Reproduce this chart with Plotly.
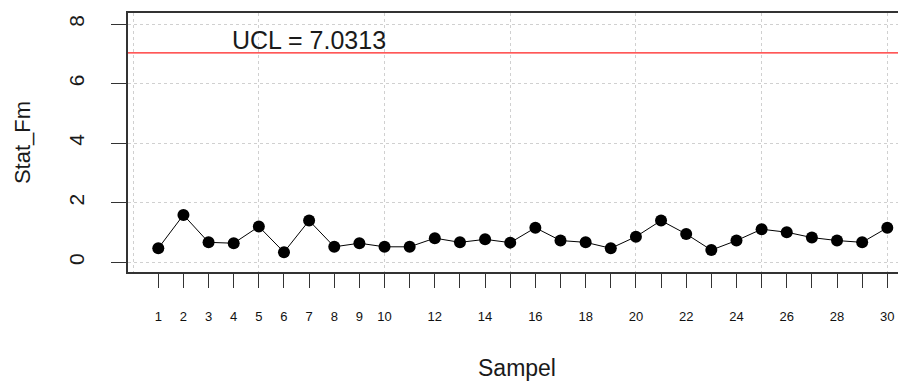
import plotly.graph_objects as go

samples = list(range(1, 31))
stat_fm = [0.47, 1.59, 0.67, 0.64, 1.20, 0.34, 1.40, 0.52, 0.64, 0.52,
           0.52, 0.81, 0.67, 0.77, 0.66, 1.16, 0.73, 0.67, 0.47, 0.86,
           1.40, 0.95, 0.41, 0.73, 1.11, 1.01, 0.83, 0.73, 0.67, 1.16]
ucl = 7.0313
x_tick_vals = list(range(1, 31))
x_tick_text = [str(v) if (v <= 10 or v % 2 == 0) else "" for v in x_tick_vals]
x_grid_vals = [0, 5, 10, 15, 20, 25, 30]
y_tick_vals = [0, 2, 4, 6, 8]

FONT = "Liberation Sans, Arial, sans-serif"

fig = go.Figure()
fig.add_trace(go.Scatter(
    x=[-1, 32], y=[ucl, ucl], mode="lines",
    line=dict(color="#ff2020", width=1.3), hoverinfo="skip", showlegend=False))
fig.add_trace(go.Scatter(
    x=samples, y=stat_fm, mode="lines+markers",
    line=dict(color="black", width=1),
    marker=dict(color="black", size=12),
    showlegend=False))

fig.add_annotation(x=7, y=7.46, text="UCL = 7.0313", showarrow=False,
                   xanchor="center", yanchor="middle",
                   font=dict(family=FONT, size=25, color="#1a1a1a"))

# page body has an 8px default margin; figure is sized to fill the window
fig.update_layout(
    width=898, height=373,
    margin=dict(l=120, r=0, t=5, b=109),
    paper_bgcolor="white", plot_bgcolor="white",
    font=dict(family=FONT, color="#1a1a1a"),
    xaxis=dict(
        range=[-0.205, 30.744], automargin=False,
        tickmode="array", tickvals=x_tick_vals, ticktext=x_tick_text,
        ticks="outside", ticklen=14, tickwidth=1.2, tickcolor="#333",
        ticklabelstandoff=18,
        tickfont=dict(size=13, family=FONT, color="#111111"),
        showgrid=False, zeroline=False,
        showline=True, linecolor="#333", linewidth=1.5, mirror=True,
        minor=dict(tickmode="array", tickvals=x_grid_vals, showgrid=True,
                   gridcolor="#d0d0d0", griddash="dot", gridwidth=1, ticks=""),
        title=dict(text="Sampel", font=dict(size=23, family=FONT), standoff=45),
    ),
    yaxis=dict(
        range=[-0.326, 8.37], automargin=False,
        tickmode="array", tickvals=y_tick_vals,
        ticks="outside", ticklen=15, tickwidth=1.2, tickcolor="#333",
        tickangle=-90, ticklabelstandoff=19,
        tickfont=dict(size=21, family=FONT, color="#1a1a1a"),
        showgrid=True, gridcolor="#d0d0d0", griddash="dot", gridwidth=1,
        zeroline=False,
        showline=True, linecolor="#333", linewidth=1.5,
        title=dict(text="Stat_Fm", font=dict(size=22, family=FONT), standoff=28),
    ),
)

fig.write_html("out.html")
